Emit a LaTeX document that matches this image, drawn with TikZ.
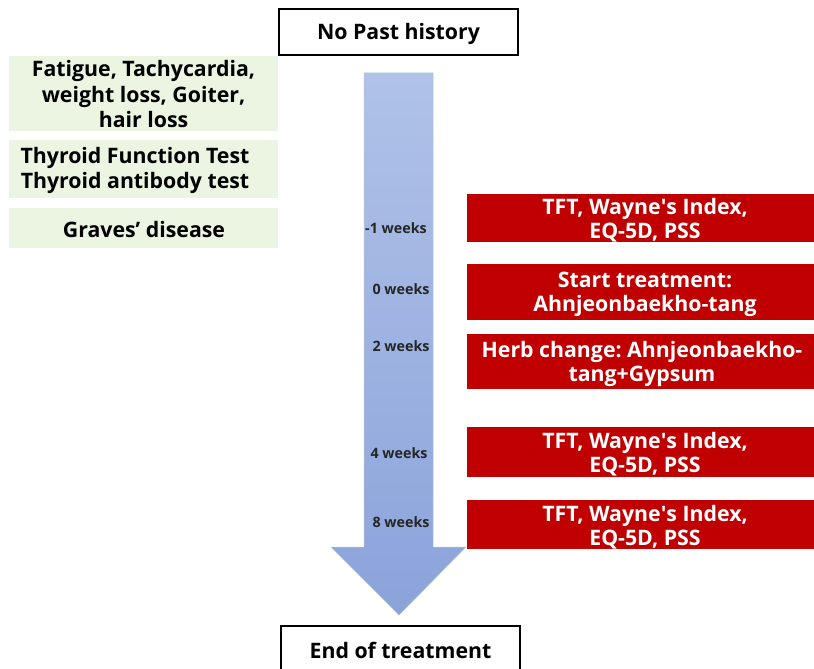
\documentclass[tikz,border=0pt]{standalone}
\usepackage{fontspec}
\setmainfont{Open Sans}
\begin{document}
\frenchspacing
\begin{tikzpicture}[x=1pt,y=-1pt,
  blackbox/.style={draw=black, line width=1.8pt, fill=white},
  btext/.style={font=\bfseries\fontsize{21.3}{24}\selectfont, text=black},
  gtext/.style={font=\bfseries\fontsize{21.3}{25.5}\selectfont, align=center, text=black},
  rtext/.style={font=\bfseries\fontsize{21.3}{24}\selectfont, align=center, text=white},
  wtext/.style={font=\bfseries\fontsize{14.3}{16}\selectfont, text=black!85}]
\useasboundingbox (0,0) rectangle (814,669);
\definecolor{gfill}{HTML}{EBF5E1}
\definecolor{rfill}{HTML}{C00000}
\definecolor{atop}{HTML}{B0C2E8}
\definecolor{abot}{HTML}{8AA3DA}
% arrow
\shade[top color=atop, bottom color=abot, draw=atop!80!black!60, line width=0.5pt]
  (364,73) -- (433,73) -- (433,547) -- (466,547) -- (399,615) -- (331,547) -- (364,547) -- cycle;
% top and bottom boxes
\draw[blackbox] (279,9) rectangle (518,55);
\node[btext] (top) at (398.5,34) {No Past history};
\draw[blackbox] (281,626) rectangle (520,670);
\node[btext] (end) at (400.5,650.5) {End of treatment};
% green boxes
\fill[gfill] (9,56) rectangle (278,131);
\node[gtext] (g1) at (143.5,94.5) {Fatigue, Tachycardia,\\weight loss, Goiter,\\hair loss};
\fill[gfill] (9,140) rectangle (278,198);
\node[gtext] (g2) at (135,170.5) {Thyroid Function Test\\Thyroid antibody test};
\fill[gfill] (9,208) rectangle (278,248);
\node[gtext] (g3) at (144,229.5) {Graves’ disease};
% red boxes
\fill[rfill] (467,194) rectangle (814,242);
\node[rtext] (r1) at (645,220.5) {TFT, Wayne\textquotesingle s Index,\\EQ-5D, PSS};
\fill[rfill] (467,264) rectangle (814,320);
\node[rtext] (r2) at (645,294.5) {Start treatment:\\Ahnjeonbaekho-tang};
\fill[rfill] (467,334) rectangle (814,389);
\node[rtext] (r3) at (642,364) {Herb change: Ahnjeonbaekho-\\tang+Gypsum};
\fill[rfill] (467,427) rectangle (814,477);
\node[rtext] (r4) at (645,454.5) {TFT, Wayne\textquotesingle s Index,\\EQ-5D, PSS};
\fill[rfill] (467,500) rectangle (814,549);
\node[rtext] (r5) at (645,527) {TFT, Wayne\textquotesingle s Index,\\EQ-5D, PSS};
% week labels
\node[wtext] (w1) at (396,228.5) {-1 weeks};
\node[wtext] (w2) at (401,289.5) {0 weeks};
\node[wtext] (w3) at (401,346.5) {2 weeks};
\node[wtext] (w4) at (399,453.5) {4 weeks};
\node[wtext] (w5) at (401,522.5) {8 weeks};
\end{tikzpicture}
\end{document}
